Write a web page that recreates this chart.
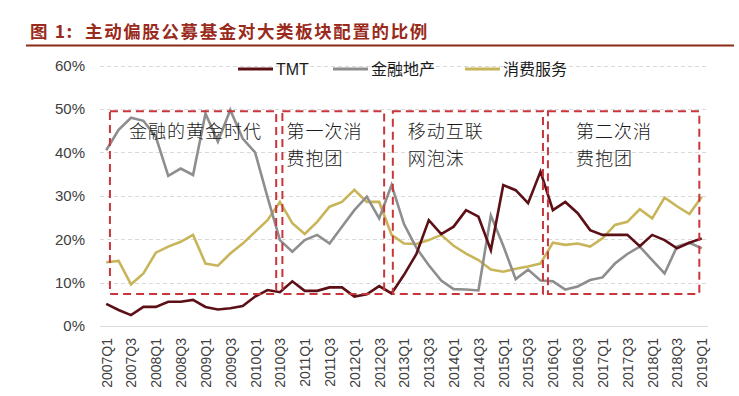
<!DOCTYPE html>
<html>
<head>
<meta charset="utf-8">
<script src="https://cdn.jsdelivr.net/npm/d3@7"></script>
<style>
  body { margin: 0; background: #fff; }
  #chart { width: 739px; height: 396px; }
  text { font-family: "Liberation Sans", Arial, "Noto Sans CJK SC", sans-serif; }
  .cjk { font-family: "Noto Sans CJK SC", sans-serif; }
  .title { white-space: pre; }
</style>
</head>
<body>
<div id="chart"></div>
<script>
const quarters = [
  "2007Q1","2007Q2","2007Q3","2007Q4","2008Q1","2008Q2","2008Q3","2008Q4",
  "2009Q1","2009Q2","2009Q3","2009Q4","2010Q1","2010Q2","2010Q3","2010Q4",
  "2011Q1","2011Q2","2011Q3","2011Q4","2012Q1","2012Q2","2012Q3","2012Q4",
  "2013Q1","2013Q2","2013Q3","2013Q4","2014Q1","2014Q2","2014Q3","2014Q4",
  "2015Q1","2015Q2","2015Q3","2015Q4","2016Q1","2016Q2","2016Q3","2016Q4",
  "2017Q1","2017Q2","2017Q3","2017Q4","2018Q1","2018Q2","2018Q3","2018Q4",
  "2019Q1"
];

// every other quarter is labelled
const tickLabels = quarters.filter((q, i) => i % 2 === 0);

const yTicks = [0, 10, 20, 30, 40, 50, 60];

const seriesNames = ["TMT", "金融地产", "消费服务"];

const tmt = [
  5.1, 3.7, 2.5, 4.4, 4.4, 5.6, 5.6, 6.0,
  4.4, 3.8, 4.1, 4.6, 6.8, 8.3, 7.8, 10.3,
  8.1, 8.1, 8.9, 8.9, 6.8, 7.3, 9.2, 7.5,
  11.8, 16.6, 24.4, 21.2, 22.9, 26.7, 25.2, 17.5,
  32.5, 31.3, 28.3, 35.6, 26.7, 28.6, 26.0, 22.1,
  21.0, 21.0, 21.0, 18.4, 21.0, 19.8, 17.9, 19.2,
  20.2
];

const finance = [
  40.5, 45.2, 48.0, 47.3, 43.6, 34.6, 36.3, 34.8,
  49.0, 42.5, 49.8, 43.2, 40.0, 29.7, 19.8, 17.1,
  19.8, 21.0, 19.0, 22.9, 26.7, 29.8, 24.8, 32.5,
  23.5, 18.0, 14.0, 10.5, 8.5, 8.4, 8.2, 25.5,
  18.5, 10.8, 13.0, 10.5, 10.3, 8.4, 9.1, 10.6,
  11.2, 14.4, 16.6, 18.3, 15.2, 12.1, 18.3, 19.2,
  17.9
];

const consumer = [
  14.7, 15.0, 9.6, 12.1, 16.9, 18.3, 19.4, 21.0,
  14.4, 13.9, 16.7, 19.0, 21.7, 24.4, 28.6, 23.7,
  21.2, 24.0, 27.5, 28.6, 31.4, 28.6, 28.6, 21.0,
  19.0, 18.9, 19.8, 21.0, 18.5, 16.7, 15.2, 13.0,
  12.5, 13.2, 13.7, 14.4, 19.2, 18.7, 19.0, 18.3,
  20.2, 23.3, 24.0, 26.9, 24.8, 29.6, 27.6, 25.8,
  29.8
];

// highlighted periods, in quarter index units and percent
const periodLabels = [
  ["金融的黄金时代"],
  ["第一次消", "费抱团"],
  ["移动互联", "网泡沫"],
  ["第二次消", "费抱团"]
];
const periodStart = [0.3, 14.2, 23.1, 35.6];
const periodEnd = [13.7, 22.4, 35.2, 47.8];
const periodTop = 49.5;
const periodBottom = 7.4;

class QuarterLineVis {
  constructor(_parentElement) {
    this.parentElement = _parentElement;
    this.initVis();
  }

  initVis() {
    let vis = this;

    vis.width = 739;
    vis.height = 396;
    vis.plot = { left: 100, right: 708, top: 65.7, bottom: 326 };

    vis.colors = ["#5c1016", "#8e8e8e", "#c8b55a"];

    vis.svg = d3
      .select("#" + vis.parentElement)
      .append("svg")
      .attr("width", vis.width)
      .attr("height", vis.height);

    vis.x = d3
      .scalePoint()
      .domain(quarters)
      .range([vis.plot.left, vis.plot.right])
      .padding(0.5);

    // fractional quarter index -> pixel, for the period boxes
    vis.xIdx = d3
      .scaleLinear()
      .domain([0, quarters.length - 1])
      .range([vis.x(quarters[0]), vis.x(quarters[quarters.length - 1])]);

    vis.y = d3
      .scaleLinear()
      .domain([0, 60])
      .range([vis.plot.bottom, vis.plot.top]);

    vis.wrangleData();
  }

  wrangleData() {
    let vis = this;

    let values = [tmt, finance, consumer];
    vis.displayData = seriesNames.map((name, i) => ({
      name,
      color: vis.colors[i],
      values: quarters.map((q, j) => ({ q, v: values[i][j] })),
    }));

    vis.periods = periodLabels.map((lines, i) => ({
      lines,
      start: periodStart[i],
      end: periodEnd[i],
    }));

    vis.updateVis();
  }

  updateVis() {
    let vis = this;

    // title
    vis.svg
      .append("text")
      .attr("class", "cjk title")
      .attr("x", 30)
      .attr("y", 38)
      .attr("fill", "#9a2b1c")
      .attr("font-size", 17.5)
      .attr("font-weight", "bold")
      .attr("letter-spacing", 1.6)
      .text("图 1:  主动偏股公募基金对大类板块配置的比例");

    vis.svg
      .append("line")
      .attr("x1", 26)
      .attr("x2", 734)
      .attr("y1", 45.5)
      .attr("y2", 45.5)
      .attr("stroke", "#8b2a17")
      .attr("stroke-width", 2);

    // grid
    vis.svg
      .append("g")
      .attr("class", "grid")
      .selectAll("line")
      .data(yTicks)
      .join("line")
      .attr("x1", vis.plot.left)
      .attr("x2", vis.plot.right)
      .attr("y1", (d) => Math.round(vis.y(d)) + 0.5)
      .attr("y2", (d) => Math.round(vis.y(d)) + 0.5)
      .attr("stroke", "#d9d9d9")
      .attr("stroke-width", 1)
      .attr("stroke-dasharray", (d) => (d === 0 ? null : "4,3"));

    // y axis labels
    let yAxis = d3
      .axisLeft(vis.y)
      .tickValues(yTicks)
      .tickFormat((d) => d + "%")
      .tickSize(0)
      .tickPadding(0);

    vis.svg
      .append("g")
      .attr("transform", `translate(85,0)`)
      .call(yAxis)
      .call((g) => g.select(".domain").remove())
      .selectAll("text")
      .attr("font-size", 15)
      .attr("fill", "#404040")
      .style("font-family", '"Liberation Sans", Arial, sans-serif');

    // x axis labels (rotated)
    let xAxis = d3
      .axisBottom(vis.x)
      .tickValues(tickLabels)
      .tickSize(0)
      .tickPadding(0);

    vis.svg
      .append("g")
      .attr("transform", `translate(0,${vis.plot.bottom + 12})`)
      .call(xAxis)
      .call((g) => g.select(".domain").remove())
      .selectAll("text")
      .attr("font-size", 14)
      .attr("fill", "#404040")
      .style("font-family", '"Liberation Sans", Arial, sans-serif')
      .attr("text-anchor", "end")
      .attr("dy", "0.35em")
      .attr("x", 0)
      .attr("y", 0)
      .attr("transform", "rotate(-90)");

    // lines
    let line = d3
      .line()
      .x((d) => vis.x(d.q))
      .y((d) => vis.y(d.v));

    vis.svg
      .append("g")
      .attr("class", "lines")
      .selectAll("path")
      .data([vis.displayData[2], vis.displayData[1], vis.displayData[0]])
      .join("path")
      .attr("fill", "none")
      .attr("stroke", (d) => d.color)
      .attr("stroke-width", 2.6)
      .attr("stroke-linejoin", "miter")
      .attr("d", (d) => line(d.values));

    // period boxes
    let boxes = vis.svg
      .append("g")
      .attr("class", "periods")
      .selectAll("g")
      .data(vis.periods)
      .join("g");

    boxes
      .append("rect")
      .attr("x", (d) => vis.xIdx(d.start))
      .attr("y", vis.y(periodTop))
      .attr("width", (d) => vis.xIdx(d.end) - vis.xIdx(d.start))
      .attr("height", vis.y(periodBottom) - vis.y(periodTop))
      .attr("fill", "none")
      .attr("stroke", "#c8363c")
      .attr("stroke-width", 2)
      .attr("stroke-dasharray", "8,5");

    let labelDx = [19, 4, 15, 28];

    boxes
      .selectAll("text")
      .data((d, i) => d.lines.map((t) => ({ t, x: vis.xIdx(d.start) + labelDx[i] })))
      .join("text")
      .attr("class", "cjk")
      .attr("x", (d) => d.x)
      .attr("y", (d, j) => vis.y(periodTop) + 27 + j * 27)
      .attr("font-size", 18)
      .attr("font-weight", 300)
      .attr("letter-spacing", 1)
      .attr("fill", "#1a1a1a")
      .text((d) => d.t);

    // legend
    let legendX = [238, 333, 465];
    let legend = vis.svg
      .append("g")
      .attr("class", "legend")
      .selectAll("g")
      .data(vis.displayData)
      .join("g")
      .attr("transform", (d, i) => `translate(${legendX[i]},69)`);

    legend
      .append("line")
      .attr("x1", 0)
      .attr("x2", 35)
      .attr("stroke", (d) => d.color)
      .attr("stroke-width", 3);

    legend
      .append("text")
      .attr("class", (d, i) => (i ? "cjk" : null))
      .attr("x", 38)
      .attr("dy", "0.36em")
      .attr("font-size", 16)
      .attr("fill", "#1a1a1a")
      .text((d) => d.name);
  }
}

new QuarterLineVis("chart");
</script>
</body>
</html>
